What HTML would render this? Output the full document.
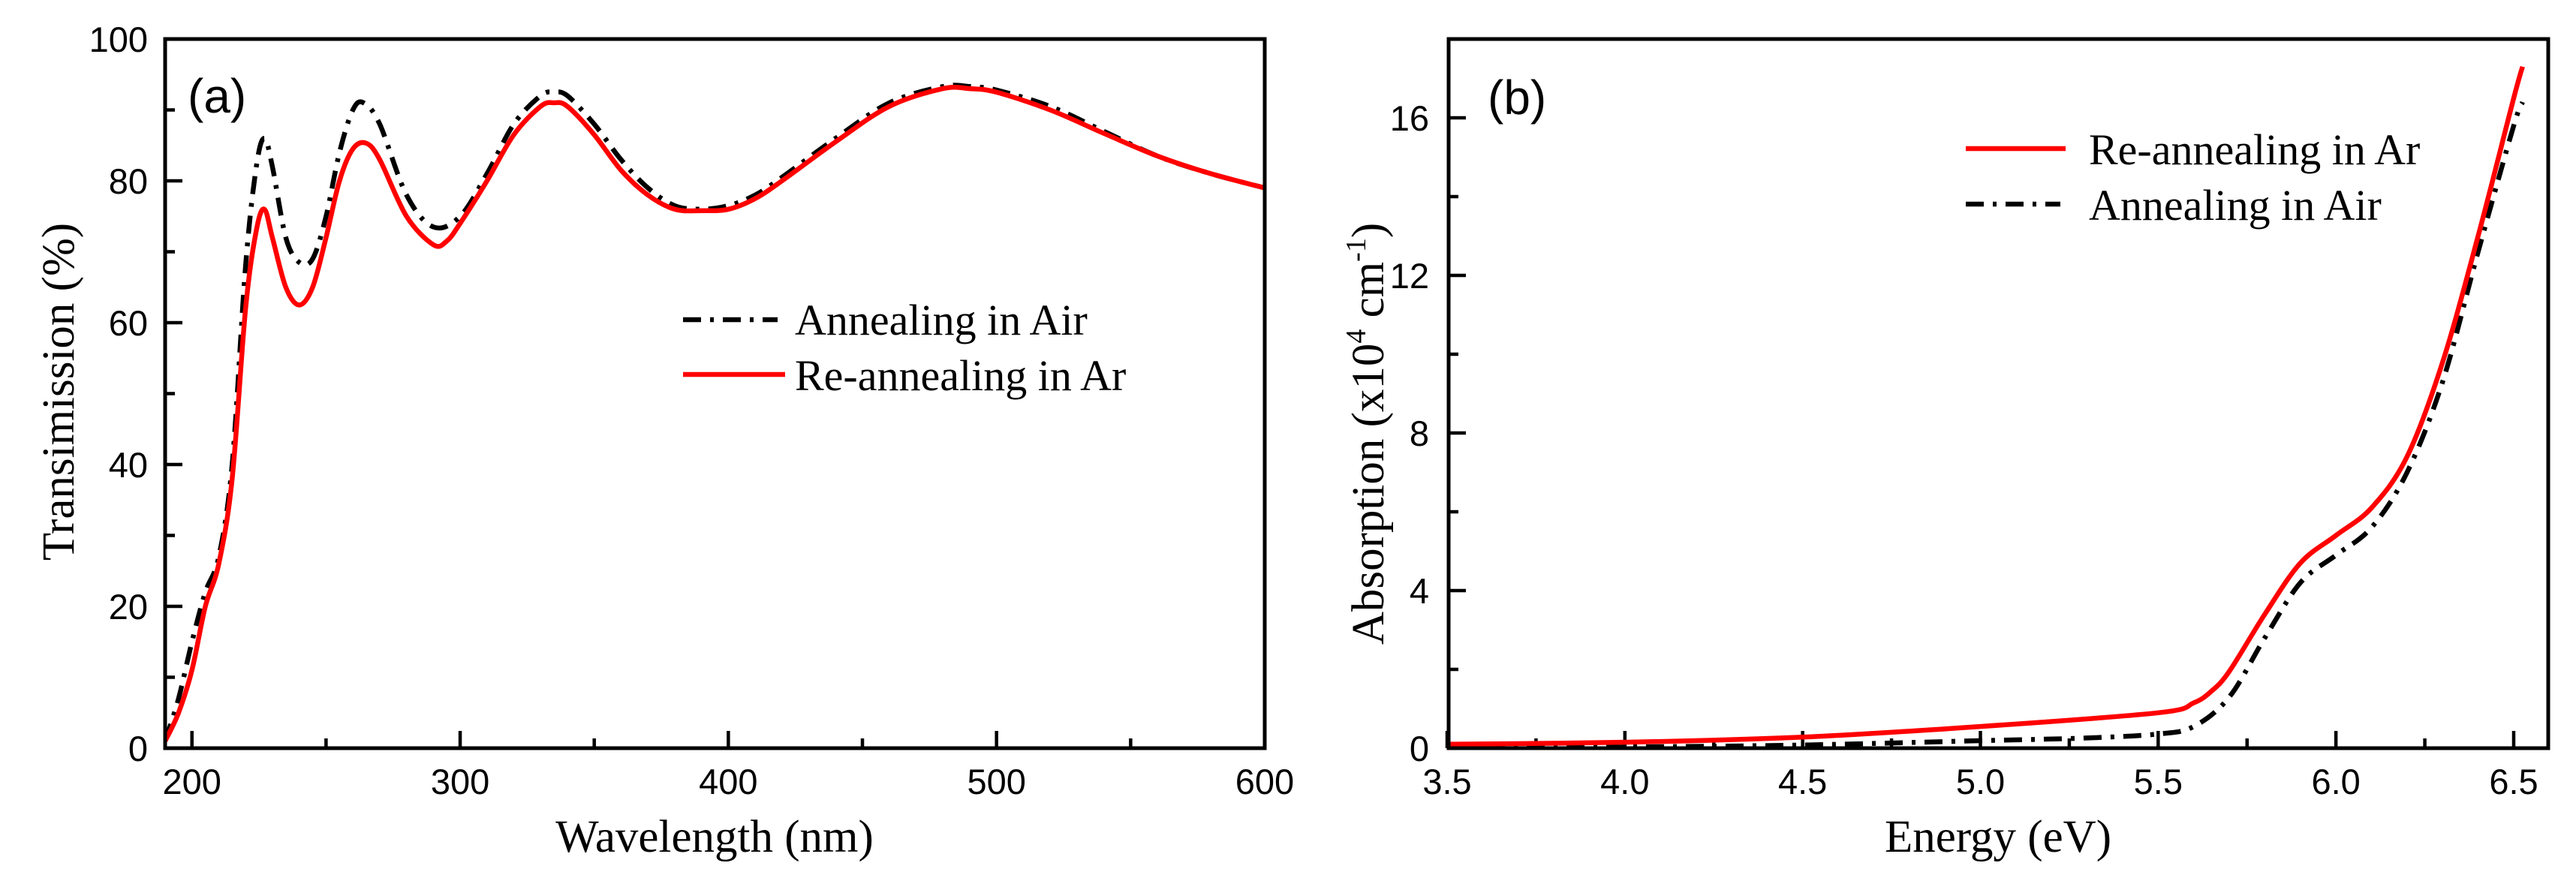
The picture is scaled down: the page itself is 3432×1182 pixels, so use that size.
<!DOCTYPE html>
<html><head><meta charset="utf-8">
<style>
html,body{margin:0;padding:0;background:#fff;}
svg{display:block;}
.tick{font-family:"Liberation Sans",Arial,sans-serif;font-size:47px;fill:#000;}
.title{font-family:"Liberation Serif","Times New Roman",serif;font-size:61px;fill:#000;}
.leg{font-family:"Liberation Serif","Times New Roman",serif;font-size:58px;fill:#000;}
.lab{font-family:"Liberation Sans",Arial,sans-serif;font-size:64px;fill:#000;}
</style></head>
<body>
<svg id="chart" width="3432" height="1182" viewBox="0 0 3432 1182" xmlns="http://www.w3.org/2000/svg">
<rect width="3432" height="1182" fill="#fff"/>
<g id="pa"></g>
<g id="pb"></g>
</svg>
<script>
// Panel (a) data
const waveAir = [190,195,200,205,210,215,220,224,227,230,235,240,245,250,255,260,264,270,280,290,300,310,320,330,335,340,350,360,370,380,390,400,410,420,440,460,480,490,500,520,540,560,580,600];
const transAir = [1,7,15,22,27,40,68,82,86,82,72,68.5,69,75,84,90,91,88,78,73.5,75,81,88,92,92.5,92,88,83,79,76.5,76,76.5,78,80.5,86,91,93.3,93.3,92.8,90.5,87,83.5,81,79];
const waveAr = [190,195,200,205,210,215,220,224,227,230,235,240,245,250,255,260,265,270,280,290,295,300,310,320,330,335,340,350,360,370,380,390,400,410,420,440,460,480,490,500,520,540,560,580,600];
const transAr = [1,5,11,20,26,38,62,73,76,72,65,62.5,65,72,80,84.5,85.3,83,75,71,71.5,74,80,86.5,90.5,91,90.5,86.5,81.5,78,76,75.8,76,77.5,80,85.5,90.5,93,93,92.5,90,86.7,83.5,81,79];
const aXTicks = [200,300,400,500,600];
const aYTicks = [0,20,40,60,80,100];
// Panel (b) data
const energyAr = [3.5,4.0,4.5,5.0,5.5,5.6,5.65,5.7,5.8,5.9,6.0,6.1,6.2,6.3,6.4,6.5,6.525];
const absAr = [0.1,0.15,0.28,0.55,0.9,1.15,1.45,1.95,3.4,4.7,5.4,6.1,7.4,9.8,13.0,16.5,17.3];
const energyAir = [3.5,4.0,4.5,5.0,5.3,5.5,5.6,5.7,5.8,5.9,6.0,6.1,6.2,6.3,6.4,6.5,6.525];
const absAir = [0.0,0.03,0.08,0.19,0.26,0.36,0.55,1.3,2.8,4.2,4.9,5.6,7.0,9.3,12.6,15.8,16.4];
const bXTicks = ["3.5","4.0","4.5","5.0","5.5","6.0","6.5"];
const bYTicks = [0,4,8,12,16];

const NS="http://www.w3.org/2000/svg";
function mk(parent,tag,attrs,text){const e=document.createElementNS(NS,tag);for(const k in attrs)e.setAttribute(k,attrs[k]);if(text!==undefined)e.textContent=text;parent.appendChild(e);return e;}
function lin(d0,d1,r0,r1){return v=>r0+(v-d0)/(d1-d0)*(r1-r0);}
function pathD(xs,ys,sx,sy){
  const p=xs.map((x,i)=>[sx(x),sy(ys[i])]);
  let d="M"+p[0][0].toFixed(1)+","+p[0][1].toFixed(1);
  for(let i=0;i<p.length-1;i++){
    const p0=p[Math.max(0,i-1)],p1=p[i],p2=p[i+1],p3=p[Math.min(p.length-1,i+2)];
    const c1=[p1[0]+(p2[0]-p0[0])/6,p1[1]+(p2[1]-p0[1])/6];
    const c2=[p2[0]-(p3[0]-p1[0])/6,p2[1]-(p3[1]-p1[1])/6];
    d+=" C"+c1[0].toFixed(1)+","+c1[1].toFixed(1)+" "+c2[0].toFixed(1)+","+c2[1].toFixed(1)+" "+p2[0].toFixed(1)+","+p2[1].toFixed(1);
  }
  return d;
}
const DASH="24 12 5 12";
const LW=6.5;

// ---------- Panel a ----------
(function(){
  const g=document.getElementById('pa');
  const L=220,R=1685,T=52,B=997;
  const sx=lin(190,600,L,R), sy=lin(0,100,B,T);
  for(let v=200;v<=600;v+=50){
    const major=v%100===0;
    const t=mk(g,'line',{x1:sx(v),x2:sx(v),y1:B,y2:B-(major?23:13),stroke:'#000','stroke-width':4.5});
    
    
  }
  for(let v=0;v<=100;v+=10){
    const major=v%20===0;
    const t=mk(g,'line',{x1:L,x2:L+(major?23:13),y1:sy(v),y2:sy(v),stroke:'#000','stroke-width':4.5});
    
    
  }
  aXTicks.forEach(v=>{
    const t=mk(g,'text',{x:sx(v),y:1058,'text-anchor':'middle',class:'tick'},String(v));
    
    
  });
  aYTicks.forEach(v=>{
    const t=mk(g,'text',{x:197,y:sy(v)+17,'text-anchor':'end',class:'tick'},String(v));
    
    
  });
  const clip=mk(g,'clipPath',{id:'ca'});mk(clip,'rect',{x:L,y:T,width:R-L,height:B-T});
  const s1=mk(g,'path',{d:pathD(waveAir,transAir,sx,sy),fill:'none',stroke:'#000','stroke-width':LW,'stroke-dasharray':DASH,'clip-path':'url(#ca)'});
  
  
  const s2=mk(g,'path',{d:pathD(waveAr,transAr,sx,sy),fill:'none',stroke:'#ff0000','stroke-width':LW,'clip-path':'url(#ca)'});
  
  
  const f=mk(g,'rect',{x:L,y:T,width:R-L,height:B-T,fill:'none',stroke:'#000','stroke-width':5});
  
  
  const lb=mk(g,'text',{x:250,y:150,class:'lab'},'(a)');
  
  
  const xt=mk(g,'text',{x:952,y:1135,'text-anchor':'middle',class:'title'},'Wavelength (nm)');
  
  
  const yt=mk(g,'text',{x:0,y:0,'text-anchor':'middle',class:'title',transform:'translate(98,522) rotate(-90)'},'Transimission (%)');
  
  
  const l1=mk(g,'line',{x1:910,x2:1036,y1:426,y2:426,stroke:'#000','stroke-width':LW,'stroke-dasharray':DASH});
  
  
  const t1=mk(g,'text',{x:1059,y:446,class:'leg'},'Annealing in Air');
  
  
  const l2=mk(g,'line',{x1:910,x2:1046,y1:499,y2:499,stroke:'#ff0000','stroke-width':LW});
  
  
  const t2=mk(g,'text',{x:1059,y:520,class:'leg'},'Re-annealing in Ar');
  
  
})();

// ---------- Panel b ----------
(function(){
  const g=document.getElementById('pb');
  const L=1930,R=3395,T=52,B=997;
  const sx=lin(3.5,6.5,1928,3349), sy=lin(0,16,B,157);
  for(let i=0;i<=12;i++){
    const v=3.5+i*0.25, major=i%2===0;
    const t=mk(g,'line',{x1:sx(v),x2:sx(v),y1:B,y2:B-(major?23:13),stroke:'#000','stroke-width':4.5});
    
    
  }
  for(let v=0;v<=16;v+=2){
    const major=v%4===0;
    const t=mk(g,'line',{x1:L,x2:L+(major?23:13),y1:sy(v),y2:sy(v),stroke:'#000','stroke-width':4.5});
    
    
  }
  bXTicks.forEach(v=>{
    const t=mk(g,'text',{x:sx(parseFloat(v)),y:1058,'text-anchor':'middle',class:'tick'},v);
    
    
  });
  bYTicks.forEach(v=>{
    const t=mk(g,'text',{x:1904,y:sy(v)+17,'text-anchor':'end',class:'tick'},String(v));
    
    
  });
  const clip=mk(g,'clipPath',{id:'cb'});mk(clip,'rect',{x:L,y:T,width:R-L,height:B-T});
  const s1=mk(g,'path',{d:pathD(energyAir,absAir,sx,sy),fill:'none',stroke:'#000','stroke-width':LW,'stroke-dasharray':DASH,'clip-path':'url(#cb)'});
  
  
  const s2=mk(g,'path',{d:pathD(energyAr,absAr,sx,sy),fill:'none',stroke:'#ff0000','stroke-width':LW,'clip-path':'url(#cb)'});
  
  
  const f=mk(g,'rect',{x:L,y:T,width:R-L,height:B-T,fill:'none',stroke:'#000','stroke-width':5});
  
  
  const lb=mk(g,'text',{x:1982,y:152,class:'lab'},'(b)');
  
  
  const xt=mk(g,'text',{x:2662,y:1135,'text-anchor':'middle',class:'title'},'Energy (eV)');
  
  
  const yt=mk(g,'text',{x:0,y:0,'text-anchor':'middle',class:'title',transform:'translate(1843,578) rotate(-90)'});
  
  
  mk(yt,'tspan',{},'Absorption (x10');
  mk(yt,'tspan',{dy:-24,'font-size':38},'4');
  mk(yt,'tspan',{dy:24},' cm');
  mk(yt,'tspan',{dy:-24,'font-size':38},'-1');
  mk(yt,'tspan',{dy:24},')');
  const l1=mk(g,'line',{x1:2619,x2:2752,y1:198,y2:198,stroke:'#ff0000','stroke-width':LW});
  
  
  const t1=mk(g,'text',{x:2783,y:219,class:'leg'},'Re-annealing in Ar');
  
  
  const l2=mk(g,'line',{x1:2619,x2:2745,y1:272,y2:272,stroke:'#000','stroke-width':LW,'stroke-dasharray':DASH});
  
  
  const t2=mk(g,'text',{x:2783,y:293,class:'leg'},'Annealing in Air');
  
  
})();
</script>
</body></html>
